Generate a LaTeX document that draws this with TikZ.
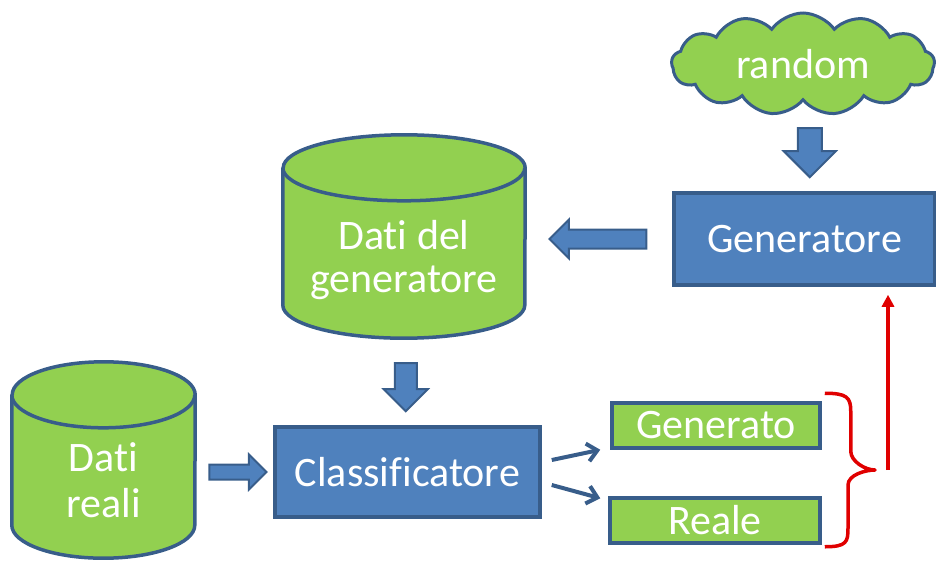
\documentclass[tikz,border=0pt]{standalone}
\usepackage{fontspec}
\setmainfont{Carlito}[Ligatures=NoCommon]
\usetikzlibrary{calc,arrows.meta,shapes.symbols,shapes.arrows}
\definecolor{boxblue}{HTML}{4F81BD}
\definecolor{edgeblue}{HTML}{385D8A}
\definecolor{datagreen}{HTML}{92D050}
\definecolor{backred}{HTML}{E00000}
\tikzset{
	bigtext/.style={font=\fontsize{42}{43}\selectfont, text=white},
	bluebox/.style={rectangle, draw=edgeblue, fill=boxblue, line width=3.5pt, bigtext},
	greenbox/.style={rectangle, draw=edgeblue, fill=datagreen, line width=3.5pt, bigtext},
	dbline/.style={draw=edgeblue, fill=datagreen, line width=3.5pt, line join=round},
	blockarrow/.style 2 args={single arrow, draw=edgeblue, fill=boxblue, line width=2pt, inner sep=#1, single arrow head extend=#2, minimum width=0pt},
	thinarrow/.style={draw=edgeblue, line width=4pt, -{Straight Barb[length=10pt,width=18pt]}},
	redline/.style={draw=backred, line width=3.5pt},
}
\def\drawdb(#1)(#2:#3){\draw[dbline] ([yshift=-#3]#1.north west) -- ([yshift=#3]#1.south west) arc (180:360:#2 and #3) -- ([yshift=-#3]#1.north east) arc (0:180:#2 and #3) -- cycle;
	\draw[dbline, fill=none] ([yshift=-#3]#1.north west) arc (180:360:#2 and #3);}

\begin{document}
\begin{tikzpicture}[x=1pt, y=-1pt]
		%%%%% START %%%%%
		\useasboundingbox (0, 0) rectangle (936, 560);
		
		\node[cloud, cloud puffs=13, cloud puff arc=110, aspect=2.6, draw=edgeblue, fill=datagreen, line width=3pt, minimum width=263pt, minimum height=102pt, inner sep=0pt, bigtext] (rnd) at (803, 64) {random};
		\node[bluebox, minimum width=261pt, minimum height=92pt] (gen) at (804.5, 239) {Generatore};
		
		\node[minimum width=242pt, minimum height=203pt, inner sep=0pt] (dgen) at (404, 236.5) {};
		\drawdb(dgen)(121pt:33pt)
		\node[bigtext, align=center] (dgentext) at ([yshift=-24pt]dgen.center) {Dati del\\generatore};
		\node[minimum width=183pt, minimum height=196pt, inner sep=0pt] (dreal) at (103.5, 460) {};
		\drawdb(dreal)(91.5pt:33pt)
		\node[bigtext, align=center] (drealtext) at ([yshift=-20pt]dreal.center) {Dati\\[3pt]reali};
		
		\node[bluebox, minimum width=265pt, minimum height=90pt] (cls) at (407.5, 472) {Classificatore};
		\node[greenbox, minimum width=208pt, minimum height=45pt] (outg) at (716, 425.5) {Generato};
		\node[greenbox, minimum width=210pt, minimum height=45pt] (outr) at (715, 520.5) {Reale};
		
		% block arrows
		\node[blockarrow={11pt}{14pt}, rotate=-90, minimum height=49pt] (a1) at ([xshift=6pt]$(rnd.south)!0.5!(gen.north)$) {};
		\node[blockarrow={8.5pt}{10pt}, rotate=180, minimum height=97pt] (a2) at ([xshift=4pt]$(dgen.east |- gen.west)!0.5!(gen.west)$) {};
		\node[blockarrow={10pt}{11pt}, rotate=-90, minimum height=48pt] (a3) at ($(dgen.south)!0.5!(cls.north)$) {};
		\node[blockarrow={6.5pt}{10pt}, minimum height=57pt] (a4) at ($(dreal.east |- cls.west)!0.5!(cls.west)$) {};
		
		\draw[thinarrow] ([shift={(10pt,12pt)}]cls.east) -- ([xshift=-10pt]outg.south west);
		\draw[thinarrow] ([shift={(10pt,-13pt)}]cls.east) -- ([shift={(-8pt,-2pt)}]outr.north west);
		
		% feedback brace
		\coordinate (bt) at ([shift={(3pt,8pt)}]outg.north east);
		\coordinate (bb) at ([shift={(3pt,-2pt)}]outr.south east);
		\draw[redline, line join=round] (bt) .. controls +(22, 0) and +(0, -14) .. ++(26, 18) |- +(0, 40) .. controls +(0, 10) and +(-10, 0) .. (875, 470)
			.. controls +(-10, 0) and +(0, -10) .. (848, 485) -- (848, 528) .. controls +(0, 14) and +(22, 0) .. (bb);
		\coordinate (fb) at (888, 470);
		\draw[redline, -{Triangle[length=12pt,width=12pt]}, shorten >=8pt] (fb) -- (fb |- gen.south);
		%%%%% END %%%%%
	\end{tikzpicture}
\end{document}
